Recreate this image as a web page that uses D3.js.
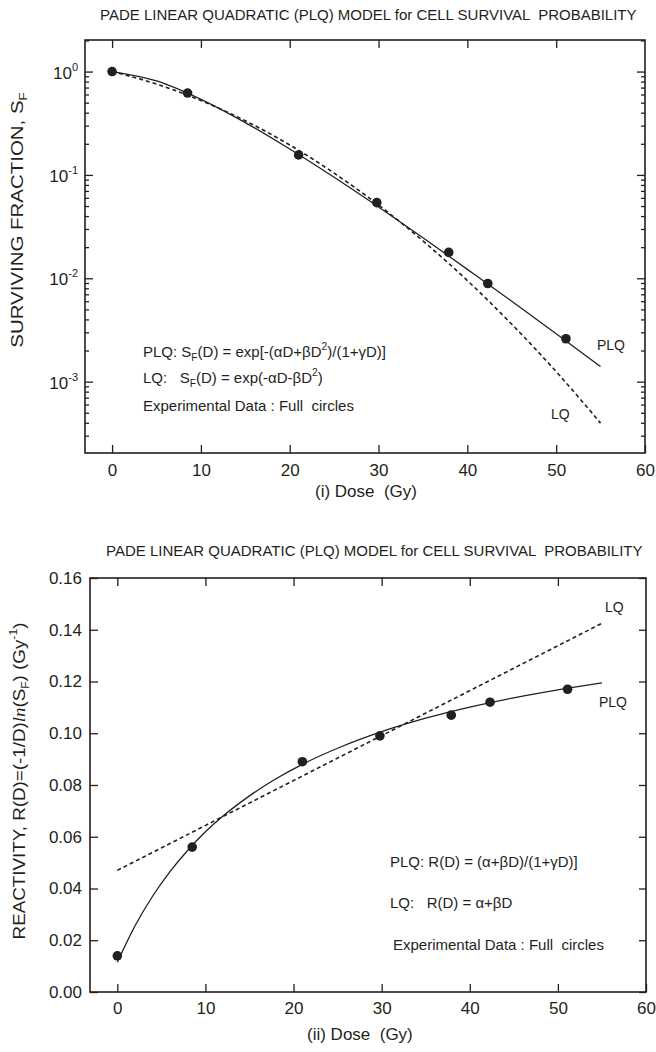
<!DOCTYPE html>
<html>
<head>
<meta charset="utf-8">
<script src="https://cdn.jsdelivr.net/npm/d3@7"></script>
<style>
  html, body { margin: 0; padding: 0; background: #fff; }
  svg { display: block; }
  text { font-family: "Liberation Sans", Arial, sans-serif; fill: #231f20; white-space: pre; }
</style>
</head>
<body>
<svg id="chart" width="656" height="1052"></svg>
<script>
// ---------------- data ----------------
const doses = [0, 8.5, 21, 29.8, 37.9, 42.3, 51.1];
const survival = [1.0, 0.62, 0.156, 0.054, 0.0178, 0.0089, 0.0026];
const reactivity = [0.014, 0.056, 0.089, 0.099, 0.107, 0.112, 0.117];

const sfCurveDose = [0, 5, 10, 15, 20, 25, 30, 35, 40, 45, 50, 55];
const plqSF = [1, 0.811, 0.539, 0.321, 0.178, 0.0948, 0.0489, 0.0247, 0.0122, 0.0060, 0.00291, 0.00140];
const lqSF  = [1, 0.757, 0.525, 0.334, 0.195, 0.104, 0.0512, 0.0230, 0.0095, 0.00359, 0.00125, 0.000397];

const rCurveDose = [0, 2, 4, 6, 8, 10, 12, 15, 18, 21, 25, 30, 35, 40, 45, 50, 55];
const plqR = [0.0115, 0.0255, 0.0370, 0.0466, 0.0548, 0.0619, 0.0680, 0.0758, 0.0824, 0.0880, 0.0942, 0.1006, 0.1058, 0.1101, 0.1137, 0.1168, 0.1195];
const lqLineDose = [0, 55];
const lqR = [0.047, 0.1425];

const xTicks = [0, 10, 20, 30, 40, 50, 60];
const sfTickExps = [0, -1, -2, -3];
const rTicks = [0, 0.02, 0.04, 0.06, 0.08, 0.10, 0.12, 0.14, 0.16];

const titleText = "PADE LINEAR QUADRATIC (PLQ) MODEL for CELL SURVIVAL  PROBABILITY";

// ---------------- drawing ----------------
const svg = d3.select("#chart");
const ink = "#231f20";

const topBox = {left: 85, right: 645, top: 40, bottom: 453};
const botBox = {left: 90, right: 646, top: 578, bottom: 992};

const xTop = d3.scaleLinear().domain([-3.05, 60]).range([topBox.left, topBox.right]);
const yTop = d3.scaleLog().domain([2.04e-4, 2.02]).range([topBox.bottom, topBox.top]);
const xBot = d3.scaleLinear().domain([-3.1, 60]).range([botBox.left, botBox.right]);
const yBot = d3.scaleLinear().domain([0, 0.16]).range([botBox.bottom, botBox.top]);

function styleAxis(g) {
  g.select(".domain").remove();
  g.selectAll("line").attr("stroke", ink).attr("stroke-width", 1.3);
  g.selectAll("text").attr("font-size", 17).attr("fill", ink)
    .attr("font-family", '"Liberation Sans", Arial, sans-serif');
}

function frame(box) {
  svg.append("rect")
    .attr("x", box.left).attr("y", box.top)
    .attr("width", box.right - box.left).attr("height", box.bottom - box.top)
    .attr("fill", "none").attr("stroke", ink).attr("stroke-width", 1.6);
}

// ===== TOP PANEL =====
svg.append("text").attr("x", 100).attr("y", 20).attr("font-size", 15).text(titleText);

svg.append("g").attr("transform", `translate(0,${topBox.bottom})`)
  .call(d3.axisBottom(xTop).tickValues(xTicks).tickSizeInner(-8).tickSizeOuter(0).tickPadding(11).tickFormat(d3.format("d")))
  .call(styleAxis);
svg.append("g").attr("transform", `translate(0,${topBox.top})`)
  .call(d3.axisTop(xTop).tickValues(xTicks.slice(0, -1)).tickSizeInner(-8).tickSizeOuter(0).tickFormat(""))
  .call(styleAxis);

const logTicks = yTop.ticks();
const isMajor = v => Math.abs(Math.log10(v) - Math.round(Math.log10(v))) < 1e-9;
const majorVals = logTicks.filter(isMajor);
const minorVals = logTicks.filter(v => !isMajor(v));
[[d3.axisLeft, topBox.left], [d3.axisRight, topBox.right]].forEach(([ax, xp]) => {
  svg.append("g").attr("transform", `translate(${xp},0)`)
    .call(ax(yTop).tickValues(majorVals).tickSizeInner(-8).tickSizeOuter(0).tickFormat(""))
    .call(styleAxis);
  svg.append("g").attr("transform", `translate(${xp},0)`)
    .call(ax(yTop).tickValues(minorVals).tickSizeInner(-4).tickSizeOuter(0).tickFormat(""))
    .call(styleAxis);
});
sfTickExps.forEach(e => {
  const t = svg.append("text")
    .attr("x", topBox.left - 7).attr("y", yTop(Math.pow(10, e)) + 7)
    .attr("text-anchor", "end").attr("font-size", 17);
  t.append("tspan").text("10");
  t.append("tspan").attr("font-size", 11).attr("dy", -8).text(String(e));
});

frame(topBox);

const lineTop = d3.line().x(d => xTop(d[0])).y(d => yTop(d[1])).curve(d3.curveMonotoneX);
svg.append("path").datum(sfCurveDose.map((d, i) => [d, plqSF[i]]))
  .attr("d", lineTop).attr("fill", "none").attr("stroke", ink).attr("stroke-width", 1.3);
svg.append("path").datum(sfCurveDose.map((d, i) => [d, lqSF[i]]))
  .attr("d", lineTop).attr("fill", "none").attr("stroke", ink).attr("stroke-width", 1.6)
  .attr("stroke-dasharray", "4,3");

svg.append("g").selectAll("circle").data(doses.map((d, i) => [d, survival[i]])).join("circle")
  .attr("cx", d => xTop(d[0])).attr("cy", d => yTop(d[1])).attr("r", 4.8).attr("fill", ink);

function rich(x, y, size, parts) {
  const t = svg.append("text").attr("x", x).attr("y", y).attr("font-size", size);
  parts.forEach(p => {
    const s = t.append("tspan").text(p.t);
    if (p.sub) s.attr("font-size", size * 0.68).attr("dy", 4);
    if (p.sup) s.attr("font-size", size * 0.68).attr("dy", -7);
    if (p.back) s.attr("dy", p.back);
    if (p.it) s.attr("font-style", "italic").attr("font-family", '"Liberation Serif", serif');
  });
  return t;
}
rich(143, 357, 15, [{t: "PLQ: S"}, {t: "F", sub: true}, {t: "(D) = exp[-(\u03b1D+\u03b2D", back: -4}, {t: "2", sup: true}, {t: ")/(1+\u03b3D)]", back: 7}]);
rich(143, 383, 15, [{t: "LQ:   S"}, {t: "F", sub: true}, {t: "(D) = exp(-\u03b1D-\u03b2D", back: -4}, {t: "2", sup: true}, {t: ")", back: 7}]);
rich(143, 411, 15, [{t: "Experimental Data : Full  circles"}]);
svg.append("text").attr("x", 597).attr("y", 350).attr("font-size", 14).text("PLQ");
svg.append("text").attr("x", 551).attr("y", 419).attr("font-size", 14).text("LQ");

svg.append("text").attr("x", 315).attr("y", 497).attr("font-size", 17).text("(i) Dose  (Gy)");

function yLabel(cx, cy, target, parts) {
  const g = svg.append("g").attr("transform", `translate(${cx},${cy}) rotate(-90)`);
  const t = g.append("text").attr("x", 0).attr("y", 0).attr("font-size", 17).attr("text-anchor", "middle");
  parts.forEach(p => {
    const s = t.append("tspan").text(p.t);
    if (p.sub) s.attr("font-size", 11).attr("dy", 4);
    if (p.sup) s.attr("font-size", 11).attr("dy", -8);
    if (p.back) s.attr("dy", p.back);
    if (p.it) s.attr("font-style", "italic").attr("font-family", '"Liberation Serif", serif');
  });
  const w = t.node().getBBox().width;
  t.attr("transform", `scale(${target / w},1)`);
}
yLabel(23, 220, 256, [{t: "SURVIVING FRACTION, S"}, {t: "F", sub: true}]);

// ===== BOTTOM PANEL =====
svg.append("text").attr("x", 106).attr("y", 556).attr("font-size", 15).text(titleText);

svg.append("g").attr("transform", `translate(0,${botBox.bottom})`)
  .call(d3.axisBottom(xBot).tickValues(xTicks).tickSizeInner(-8).tickSizeOuter(0).tickPadding(10).tickFormat(d3.format("d")))
  .call(styleAxis);
svg.append("g").attr("transform", `translate(0,${botBox.top})`)
  .call(d3.axisTop(xBot).tickValues(xTicks.slice(0, -1)).tickSizeInner(-8).tickSizeOuter(0).tickFormat(""))
  .call(styleAxis);
svg.append("g").attr("transform", `translate(${botBox.left},0)`)
  .call(d3.axisLeft(yBot).tickValues(rTicks).tickSizeInner(-8).tickSizeOuter(0).tickPadding(8).tickFormat(d3.format(".2f")))
  .call(styleAxis);
svg.append("g").attr("transform", `translate(${botBox.right},0)`)
  .call(d3.axisRight(yBot).tickValues(rTicks).tickSizeInner(-7).tickSizeOuter(0).tickFormat(""))
  .call(styleAxis);

frame(botBox);

const lineBot = d3.line().x(d => xBot(d[0])).y(d => yBot(d[1])).curve(d3.curveMonotoneX);
svg.append("path").datum(rCurveDose.map((d, i) => [d, plqR[i]]))
  .attr("d", lineBot).attr("fill", "none").attr("stroke", ink).attr("stroke-width", 1.3);
svg.append("path").datum(lqLineDose.map((d, i) => [d, lqR[i]]))
  .attr("d", lineBot).attr("fill", "none").attr("stroke", ink).attr("stroke-width", 1.6)
  .attr("stroke-dasharray", "4,3");

svg.append("g").selectAll("circle").data(doses.map((d, i) => [d, reactivity[i]])).join("circle")
  .attr("cx", d => xBot(d[0])).attr("cy", d => yBot(d[1])).attr("r", 4.8).attr("fill", ink);

rich(390, 867, 15, [{t: "PLQ: R(D) = (\u03b1+\u03b2D)/(1+\u03b3D)]"}]);
rich(390, 908, 15, [{t: "LQ:   R(D) = \u03b1+\u03b2D"}]);
rich(393, 950, 15, [{t: "Experimental Data : Full  circles"}]);
svg.append("text").attr("x", 605).attr("y", 612).attr("font-size", 14).text("LQ");
svg.append("text").attr("x", 599).attr("y", 707).attr("font-size", 14).text("PLQ");

svg.append("text").attr("x", 307).attr("y", 1040).attr("font-size", 17).text("(ii) Dose  (Gy)");

yLabel(25, 781, 317, [
  {t: "REACTIVITY, R(D)=(-1/D)"}, {t: "ln", it: true}, {t: "(S"}, {t: "F", sub: true},
  {t: ") (Gy", back: -4}, {t: "-1", sup: true}, {t: ")", back: 8}
]);
</script>
</body>
</html>
